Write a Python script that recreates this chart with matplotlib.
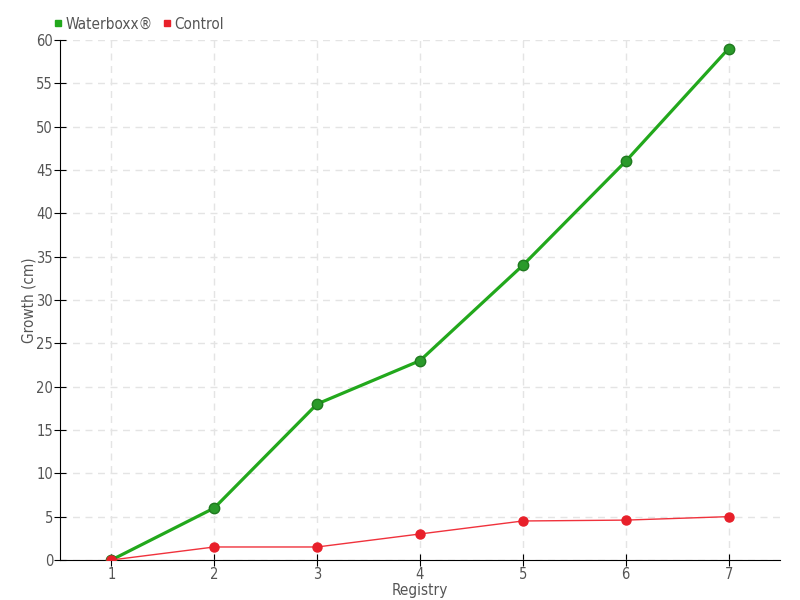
import matplotlib.pyplot as plt
from matplotlib.lines import Line2D

registry = [1, 2, 3, 4, 5, 6, 7]
waterboxx = [0, 6, 18, 23, 34, 46, 59]
control = [0, 1.5, 1.5, 3, 4.5, 4.6, 5]

plt.rcParams['font.family'] = ['DejaVu Sans']
plt.rcParams['font.stretch'] = 'condensed'
txt = '#555555'

fig = plt.figure(figsize=(8, 6), dpi=100)
ax = fig.add_axes([0.075, 0.0667, 0.9, 0.8667])

ax.plot(registry, waterboxx, color='#22a81c', lw=2.3, marker='o', ms=7.5,
        mfc='#2a9a2a', mec='#1f7a1f', zorder=3)
ax.plot(registry, control, color='#f0323c', lw=1, marker='o', ms=6.5,
        mfc='#e8202a', mec='#e8202a', zorder=4)

ax.set_xlim(0.5, 7.5)
ax.set_ylim(0, 60)
ax.set_xticks(registry)
ax.set_yticks(range(0, 61, 5))
ax.grid(True, color='#e4e4e4', ls=(0, (5, 4)), lw=1)
ax.set_axisbelow(True)
for s in ['top', 'right']:
    ax.spines[s].set_visible(False)
ax.tick_params(direction='inout', length=8, colors='black', labelcolor=txt,
               labelsize=10.5, pad=1)
ax.set_xlabel('Registry', color=txt, fontsize=11, labelpad=1)
ax.set_ylabel('Growth (cm)', color=txt, fontsize=11, labelpad=0)

handles = [Line2D([], [], ls='', marker='s', ms=5, color='#22a81c'),
           Line2D([], [], ls='', marker='s', ms=5, color='#e8202a')]
leg = fig.legend(handles, ['Waterboxx®', 'Control'], loc='upper left',
                 bbox_to_anchor=(0.05, 0.995), ncol=2, frameon=False,
                 fontsize=11, handlelength=0.6, handletextpad=0.2, columnspacing=0.6)
for t in leg.get_texts():
    t.set_color(txt)

fig.savefig('out.png')
